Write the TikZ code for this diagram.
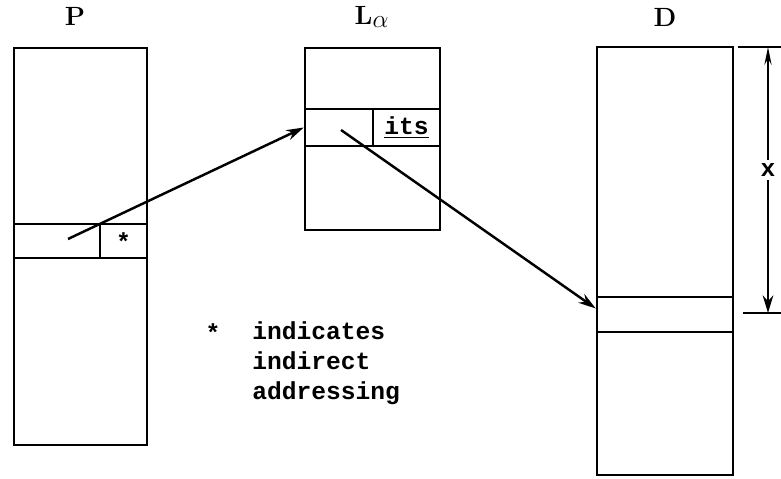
\documentclass[tikz,border=0pt]{standalone}
\usepackage{fontspec}
\setmonofont{Liberation Mono}
\usetikzlibrary{arrows.meta}

\begin{document}
\begin{tikzpicture}[x=0.02cm, y=-0.02cm,
    box/.style={draw, line width=1.4pt, inner sep=0pt},
    title/.style={font=\fontsize{15}{17}\selectfont\bfseries},
    tt/.style={font=\fontsize{14}{17}\selectfont\ttfamily\bfseries, inner sep=0pt},
    ptr/.style={line width=1.4pt, -{Stealth[length=10pt,width=6pt]}}]
    \useasboundingbox (0,0) rectangle (781,479);

    % Store P
    \node[title] (ptitle) at (75,16) {P};
    \node[box, minimum width=2.66cm, minimum height=7.94cm] (P) at (80.5,246.5) {};
    \node[box, minimum width=2.66cm, minimum height=0.68cm] (prow) at (80.5,241) {};
    \draw[line width=1.4pt] (100,224) -- (100,258);
    \node[tt] (pstar) at (123.5,242) {*};
    \coordinate (pfrom) at (68,239);

    % Table L alpha
    \node[title] (ltitle) at (372,17) {L$_{\textstyle\alpha}$};
    \node[box, minimum width=2.7cm, minimum height=3.64cm] (L) at (372.5,139) {};
    \node[box, minimum width=1.36cm, minimum height=0.74cm] (lrow) at (339,127.5) {};
    \node[box, minimum width=1.34cm, minimum height=0.74cm] (lits) at (406.5,127.5) {\fontsize{14}{17}\selectfont\ttfamily\bfseries\underline{its}};
    \coordinate (lfrom) at (341,130);

    % Store D
    \node[title] (dtitle) at (665,17) {D};
    \node[box, minimum width=2.72cm, minimum height=8.56cm] (D) at (665,261) {};
    \node[box, minimum width=2.72cm, minimum height=0.7cm] (drow) at (665,314.5) {};

    % Pointers
    \draw[ptr] (pfrom) -- (lrow.west);
    \draw[ptr] (lfrom) -- ([yshift=0.12cm]drow.west);

    % Displacement x
    \coordinate (xtop) at (768,47);
    \coordinate (xbot) at (768,313);
    \draw[line width=1.4pt] (738,47) -- (781,47);
    \draw[line width=1.4pt] (743,313) -- (781,313);
    \draw[line width=1.4pt, {Stealth[length=10pt,width=4pt]}-{Stealth[length=10pt,width=6pt]}] (xtop) -- (xbot);
    \node[tt, fill=white, inner sep=2pt] (xlab) at (768,170) {x};

    % Note
    \node[tt] (nstar) at (213,333) {*};
    \node[tt, anchor=west, align=left] (note) at (252,363) {indicates\\indirect\\addressing};
\end{tikzpicture}
\end{document}
